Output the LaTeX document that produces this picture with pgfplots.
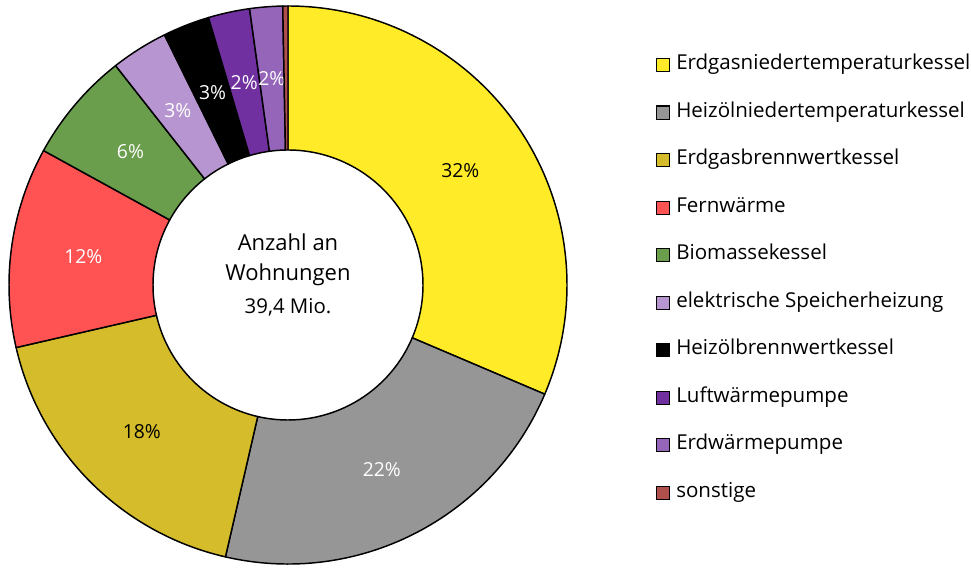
\documentclass[border=0pt]{standalone}
\usepackage{pgfplots}
\pgfplotsset{compat=1.18}
\usepackage{pgfplotstable}
\usepackage{fontspec}
\setmainfont{Open Sans}

\definecolor{cA}{RGB}{255,235,40}
\definecolor{cB}{RGB}{150,150,150}
\definecolor{cC}{RGB}{212,188,42}
\definecolor{cD}{RGB}{255,83,83}
\definecolor{cE}{RGB}{106,158,76}
\definecolor{cF}{RGB}{183,149,209}
\definecolor{cG}{RGB}{0,0,0}
\definecolor{cH}{RGB}{112,48,160}
\definecolor{cI}{RGB}{149,101,185}
\definecolor{cJ}{RGB}{176,80,76}

% Anteil in Prozent, Beschriftung, Farbe
\pgfplotstableread[col sep=comma]{
name,value,lab,fc,tc
Erdgasniedertemperaturkessel,31.4,32,cA,black
Heizölniedertemperaturkessel,22.2,22,cB,white
Erdgasbrennwertkessel,17.8,18,cC,black
Fernwärme,11.6,12,cD,white
Biomassekessel,6.4,6,cE,white
elektrische Speicherheizung,3.3,3,cF,white
Heizölbrennwertkessel,2.7,3,cG,white
Luftwärmepumpe,2.4,2,cH,white
Erdwärmepumpe,1.9,2,cI,white
sonstige,0.3,,cJ,white
}\slices

\begin{document}
\begin{tikzpicture}
\begin{axis}[
    x=0.75pt, y=0.75pt,
    xmin=0, xmax=971, ymin=0, ymax=566,
    hide axis, clip=false]
\pgfplotsextra{
  \path (axis cs:0,0) rectangle (axis cs:971,566);
  \coordinate (O) at (axis cs:288,281);
  \def\Ro{209.25pt}\def\Ri{101.25pt}\def\Rl{155pt}
  \pgfplotstablegetrowsof{\slices}
  \pgfmathtruncatemacro\n{\pgfplotsretval-1}
  \gdef\cum{0}
  \foreach \i in {0,...,\n}{
    \pgfplotstablegetelem{\i}{value}\of\slices \let\v\pgfplotsretval
    \pgfplotstablegetelem{\i}{fc}\of\slices \let\fc\pgfplotsretval
    \pgfplotstablegetelem{\i}{tc}\of\slices \let\tc\pgfplotsretval
    \pgfplotstablegetelem{\i}{lab}\of\slices \let\lab\pgfplotsretval
    \pgfplotstablegetelem{\i}{name}\of\slices \let\nm\pgfplotsretval
    \pgfmathsetmacro\a{90-3.6*\cum}
    \pgfmathsetmacro\b{90-3.6*(\cum+\v)}
    \pgfmathsetmacro\m{(\a+\b)/2}
    \fill[\fc, draw=black, line width=1.1pt, line join=round]
      ([shift={(\a:\Ro)}]O) arc[start angle=\a, end angle=\b, radius=\Ro]
      -- ([shift={(\b:\Ri)}]O) arc[start angle=\b, end angle=\a, radius=\Ri] -- cycle;
    \ifx\lab\empty\else
      \node[text=\tc, font=\fontsize{14.5}{16}\selectfont, inner sep=0pt]
        at ([shift={(\m:\Rl)}]O) {\lab\%};
    \fi
    \pgfmathsetmacro\ly{566-65-47.55*\i}
    \draw[fill=\fc, line width=0.8pt]
      ([shift={(-4.9pt,-4.9pt)}]axis cs:663,\ly) rectangle +(9.8pt,9.8pt);
    \node[anchor=west, inner sep=0pt, font=\fontsize{15.4}{17}\selectfont]
      at (axis cs:676,\ly) {\strut\nm};
    \pgfmathsetmacro\c{\cum+\v}
    \xdef\cum{\c}
  }
  \node[align=center, font=\fontsize{16.5}{22.5}\selectfont, inner sep=0pt]
    at (axis cs:288,306) {Anzahl an\\Wohnungen};
  \node[font=\fontsize{15.3}{17}\selectfont, inner sep=0pt]
    at (axis cs:288,259) {39,4 Mio.};
}
\end{axis}
\end{tikzpicture}
\end{document}
